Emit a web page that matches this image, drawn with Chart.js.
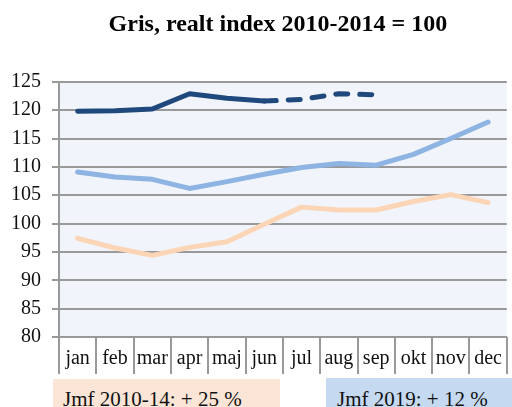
<!DOCTYPE html>
<html>
<head>
<meta charset="utf-8">
<script src="https://cdn.jsdelivr.net/npm/chart.js@4"></script>
<style>
  html, body { margin: 0; padding: 0; background: #fff; }
  #wrap { position: relative; width: 512px; height: 407px; overflow: hidden; }
  canvas { position: absolute; left: 0; top: 0; }
  .note {
    position: absolute;
    font-family: "Liberation Serif", "Times New Roman", serif;
    font-size: 21px;
    line-height: 21px;
    color: #111;
    box-sizing: border-box;
    padding-top: 10px;
    white-space: nowrap;
  }
  #note1 { left: 53px; top: 379px; width: 227px; height: 40px; background: #FBE5D6; padding-left: 10px; }
  #note2 { left: 326px; top: 378px; width: 186px; height: 40px; background: #C5D9F1; padding-left: 11px; padding-top: 11px; }
</style>
</head>
<body>
<div id="wrap">
  <canvas id="c" width="512" height="407"></canvas>
  <div class="note" id="note1">Jmf 2010-14: + 25 %</div>
  <div class="note" id="note2">Jmf 2019: + 12 %</div>
</div>
<script>
// Månader på x-axeln
const months = ['jan', 'feb', 'mar', 'apr', 'maj', 'jun', 'jul', 'aug', 'sep', 'okt', 'nov', 'dec'];

// Realt prisindex för gris (2010-2014 = 100)
const index2019 = [119.8, 119.9, 120.2, 122.9, 122.1, 121.6, 121.9, 122.9, 122.7, null, null, null];
const indexPrev = [109.1, 108.2, 107.8, 106.2, 107.4, 108.7, 109.9, 110.6, 110.3, 112.2, 115.0, 117.9];
const indexBase = [97.4, 95.7, 94.4, 95.8, 96.8, 99.9, 102.9, 102.4, 102.4, 103.9, 105.1, 103.7];

// Y-axelns skala
const yMin = 80;
const yMax = 125;
const yStep = 5;

const serifFamily = "'Liberation Serif', 'Times New Roman', serif";

// Ljus bakgrund i ritytan
const plotBg = {
  id: 'plotBg',
  beforeDraw(chart) {
    const { ctx, chartArea: a } = chart;
    ctx.save();
    ctx.fillStyle = '#F1F5FB';
    ctx.fillRect(a.left, a.top, a.right - a.left, a.bottom - a.top);
    ctx.restore();
  }
};

// Centrera rubriken över ritytan i stället för över hela duken
const titleOverPlot = {
  id: 'titleOverPlot',
  afterLayout(chart) {
    const t = chart.titleBlock;
    if (t) {
      t.left = chart.chartArea.left - 10;
      t.right = chart.chartArea.right;
    }
  }
};

// Långa avgränsare mellan månadsetiketterna under x-axeln
const monthDividers = {
  id: 'monthDividers',
  afterDraw(chart) {
    const { ctx, scales: { x } } = chart;
    ctx.save();
    ctx.strokeStyle = '#999';
    ctx.lineWidth = 2;
    ctx.beginPath();
    for (let i = 0; i <= months.length; i++) {
      const px = Math.round(x.getPixelForValue(i - 0.5));
      ctx.moveTo(px, x.top);
      ctx.lineTo(px, x.top + 37);
    }
    ctx.stroke();
    ctx.restore();
  }
};

new Chart(document.getElementById('c'), {
  type: 'line',
  data: {
    labels: months,
    datasets: [
      {
        data: indexBase,
        borderColor: '#FBD5B5',
        borderWidth: 5,
        pointRadius: 0,
        tension: 0,
        borderCapStyle: 'round',
        borderJoinStyle: 'round'
      },
      {
        data: indexPrev,
        borderColor: '#8DB4E2',
        borderWidth: 5,
        pointRadius: 0,
        tension: 0,
        borderCapStyle: 'round',
        borderJoinStyle: 'round'
      },
      {
        data: index2019,
        borderColor: '#1F497D',
        borderWidth: 5,
        pointRadius: 0,
        tension: 0,
        borderCapStyle: 'round',
        borderJoinStyle: 'round',
        segment: {
          borderDash: ctx => ctx.p0DataIndex >= 5 ? [12, 12] : undefined
        }
      }
    ]
  },
  options: {
    responsive: false,
    animation: false,
    font: { family: serifFamily },
    layout: { padding: { left: 0, right: 0, top: 0, bottom: 26 } },
    plugins: {
      legend: { display: false },
      tooltip: { enabled: false },
      title: {
        display: true,
        text: 'Gris, realt index 2010-2014 = 100',
        color: '#000',
        font: { family: serifFamily, size: 24, weight: 'bold' },
        padding: { top: 10, bottom: 43 }
      }
    },
    scales: {
      x: {
        offset: true,
        grid: {
          offset: true,
          drawOnChartArea: false,
          drawTicks: false
        },
        border: { display: true, color: '#999', width: 2 },
        ticks: {
          color: '#111',
          padding: 10,
          maxRotation: 0,
          autoSkip: false,
          font: { family: serifFamily, size: 20, weight: 'normal' }
        }
      },
      y: {
        min: yMin,
        max: yMax,
        grid: {
          color: '#999',
          lineWidth: 2,
          tickLength: 7
        },
        border: { display: true, color: '#999', width: 2 },
        ticks: {
          stepSize: yStep,
          color: '#111',
          padding: 11,
          font: { family: serifFamily, size: 20, weight: 'normal' }
        }
      }
    }
  },
  plugins: [plotBg, titleOverPlot, monthDividers]
});
</script>
</body>
</html>
